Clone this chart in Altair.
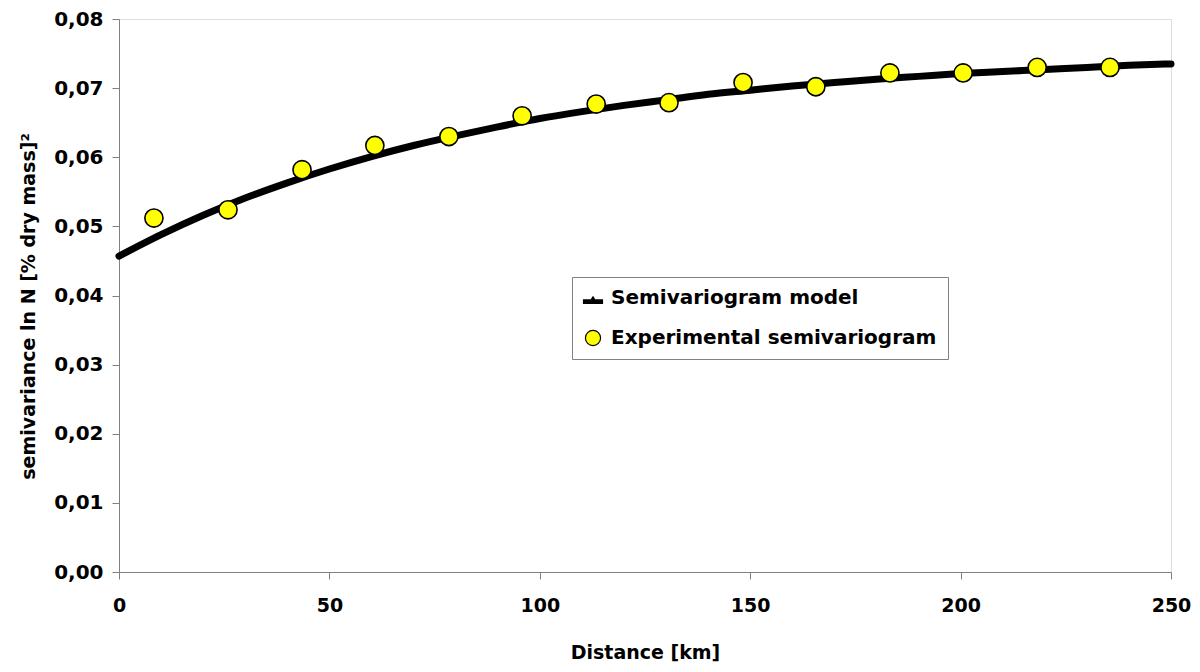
import altair as alt
import pandas as pd

# Experimental semivariogram (lag distance km, semivariance)
exp_dist = [8.3, 25.9, 43.5, 60.8, 78.4, 95.8, 113.4, 130.7, 148.3, 165.6, 183.2, 200.6, 218.2, 235.5]
exp_gamma = [0.0512, 0.0524, 0.0582, 0.0617, 0.0630, 0.0660, 0.0677, 0.0679, 0.0708, 0.0702, 0.0722, 0.0722, 0.0730, 0.0730]

# Semivariogram model curve
model_dist = [0, 10, 20, 30, 40, 50, 60, 70, 80, 90, 100, 110, 120, 130, 140, 150,
              160, 170, 180, 190, 200, 210, 220, 230, 240, 250]
model_gamma = [0.0457, 0.0488, 0.0516, 0.0541, 0.0563, 0.0583, 0.0601, 0.0617, 0.0631, 0.0644,
               0.0656, 0.0666, 0.0675, 0.0683, 0.0691, 0.0697, 0.0703, 0.0708, 0.0713, 0.0717,
               0.0721, 0.0724, 0.0727, 0.0730, 0.0733, 0.0735]

series_names = ["Semivariogram model", "Experimental semivariogram"]

x_ticks = [0, 50, 100, 150, 200, 250]
y_ticks = [0, 0.01, 0.02, 0.03, 0.04, 0.05, 0.06, 0.07, 0.08]

model_df = pd.DataFrame({"d": model_dist, "g": model_gamma})
exp_df = pd.DataFrame({"d": exp_dist, "g": exp_gamma, "series": series_names[1]})

FONT = "DejaVu Sans"
GRAY = "#808080"

x_enc = alt.X(
    "d:Q",
    scale=alt.Scale(domain=[0, 250], nice=False),
    axis=alt.Axis(
        values=x_ticks, title="Distance [km]", grid=False,
        domainColor=GRAY, tickColor=GRAY, tickSize=7,
        labelFont=FONT, labelFontSize=19, labelFontWeight="bold", labelColor="black",
        labelPadding=17, labelFlush=False,
        titleFont=FONT, titleFontSize=19, titleFontWeight="bold", titleColor="black",
        titleBaseline="middle", titleY=80,
    ),
)
y_enc = alt.Y(
    "g:Q",
    scale=alt.Scale(domain=[0, 0.08], nice=False),
    axis=alt.Axis(
        values=y_ticks, grid=False,
        title="semivariance ln N [% dry mass]²",
        labelExpr="replace(format(datum.value, '.2f'), '.', ',')",
        domainColor=GRAY, tickColor=GRAY, tickSize=7,
        labelFont=FONT, labelFontSize=20, labelFontWeight="bold", labelColor="black",
        labelPadding=9,
        titleFont=FONT, titleFontSize=19, titleFontWeight="bold", titleColor="black",
        titleAngle=-90, titleBaseline="middle", titleX=-91, titleY=287,
    ),
)

model = alt.Chart(model_df).mark_line(
    color="black", strokeWidth=7, interpolate="monotone", strokeCap="round"
).encode(x=x_enc, y=y_enc)

legend_cfg = dict(
    title=None, orient="none", legendX=453, legendY=258,
    strokeColor=GRAY, fillColor="white", padding=11, cornerRadius=0,
    labelFont=FONT, labelFontSize=20, labelFontWeight="bold", labelColor="black",
    labelLimit=0,
    symbolSize=230, symbolStrokeColor="black", symbolStrokeWidth=1.2,
    rowPadding=20, labelOffset=8,
)

points = alt.Chart(exp_df).mark_point(
    filled=True, size=330, stroke="black", strokeWidth=1.6, opacity=1
).encode(
    x=x_enc,
    y=y_enc,
    color=alt.Color(
        "series:N",
        scale=alt.Scale(domain=series_names, range=["black", "#FFFF00"]),
        legend=alt.Legend(**legend_cfg),
    ),
    shape=alt.Shape(
        "series:N",
        scale=alt.Scale(
            domain=series_names,
            range=["M-1.25,0.25H1.25V0.7H-1.25Z M-0.25,0.25L0,-0.15L0.25,0.25Z", "circle"],
        ),
        legend=alt.Legend(**legend_cfg),
    ),
)

chart = alt.layer(model, points).properties(
    width=1052, height=553,
    autosize=alt.AutoSizeParams(type="none"),
    padding={"left": 111, "top": 11, "right": 21, "bottom": 92},
).configure_view(stroke=None).configure(background="white")

chart.save("out.html", embed_options={"renderer": "svg", "actions": False})
